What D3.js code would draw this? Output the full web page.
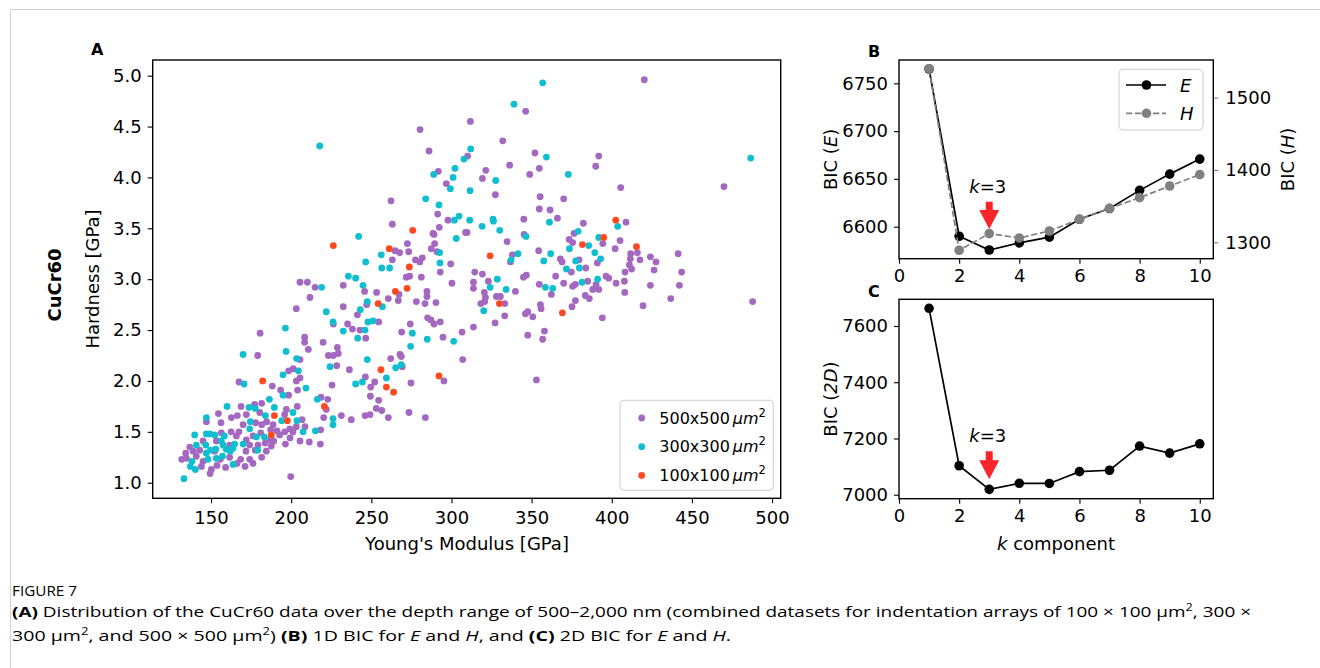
<!DOCTYPE html>
<html>
<head>
<meta charset="utf-8">
<title>CuCr60 BIC</title>
<script src="https://cdn.jsdelivr.net/npm/d3@7"></script>
<style>
  body { margin: 0; background: #fff; }
  svg text { font-family: "DejaVu Sans", sans-serif; fill: #000; }
  svg .caption text, svg text.caption { font-family: "Open Sans", "Noto Sans", sans-serif; }
</style>
</head>
<body>
<div id="container"></div>
<script>
// Panel A: Young's modulus [GPa] vs hardness [GPa] for each indentation array
const pts500 = [
  [280.4,4.47],[286.0,4.26],[291.8,4.06],[296.8,3.94],[262.3,3.77],[291.4,3.64],[297.8,3.58],[292.4,3.51],[263.1,3.54],[288.5,3.45],
  [289.1,3.44],[308.8,3.46],[272.5,3.35],[289.5,3.35],[287.4,3.30],[291.0,3.27],[273.3,3.27],[264.8,3.28],[267.7,3.26],[263.1,3.19],
  [277.5,3.19],[280.2,3.17],[281.8,3.21],[299.5,3.15],[293.0,3.07],[273.9,3.03],[271.8,3.02],[281.2,3.02],
  [420.3,4.96],[346.3,4.65],[311.8,4.55],[332.0,4.36],[352.1,4.24],[310.1,4.21],[391.9,4.21],[336.3,4.12],[390.0,4.11],[354.8,4.09],
  [321.4,4.07],[319.3,3.99],[348.8,4.03],[470.0,3.91],[405.6,3.90],[327.4,3.83],[355.3,3.81],[370.0,3.79],[354.8,3.69],[361.5,3.68],
  [366.1,3.60],[345.1,3.59],[382.3,3.55],[408.9,3.56],[309.7,3.46],[345.3,3.44],[334.7,3.37],[376.5,3.45],[373.4,3.39],[375.6,3.36],
  [394.4,3.35],[405.2,3.38],[402.1,3.30],[354.4,3.28],[416.0,3.26],[411.8,3.25],[411.6,3.20],[417.6,3.19],[424.1,3.22],[427.6,3.17],
  [441.4,3.25],[443.6,3.07],[426.4,3.09],[411.0,3.14],[412.4,3.10],[408.3,3.07],[391.0,3.16],[383.8,3.11],[367.9,3.20],[369.0,3.17],
  [379.6,3.19],[336.8,3.17],[338.0,3.24],[314.5,3.07],[319.3,3.05],[374.8,3.07],[365.0,3.03],[344.9,3.02],[346.7,3.04],[396.4,3.03],
  [205.5,2.97],[210.1,2.97],[214.9,2.92],[232.5,2.94],[245.8,2.88],[253.3,2.87],[267.3,2.85],[266.8,2.79],[260.6,2.81],[284.7,2.88],
  [284.7,2.83],[300.3,2.96],[278.1,2.78],[283.5,2.76],[290.3,2.77],[247.1,2.75],[211.7,2.82],[203.2,2.71],[232.5,2.73],[241.3,2.65],
  [226.3,2.56],[235.2,2.56],[238.2,2.51],[242.9,2.50],[254.6,2.58],[246.5,2.42],[268.9,2.48],[274.3,2.56],[285.1,2.62],[287.2,2.60],
  [289.1,2.56],[293.0,2.58],[294.7,2.43],[306.6,2.48],[307.0,2.21],[180.6,2.47],[208.4,2.43],[208.4,2.38],[210.7,2.31],[219.9,2.38],
  [228.8,2.33],[223.2,2.25],[226.3,2.25],[229.4,2.27],[228.4,2.15],[236.3,2.11],[262.1,2.22],[267.9,2.26],[268.7,2.24],[269.3,2.14],
  [246.3,2.04],[249.6,1.94],[252.1,1.99],[249.4,1.85],[254.6,1.81],[253.1,1.73],[256.5,1.71],[260.6,1.64],[246.1,1.66],[249.2,1.67],
  [273.5,1.69],[283.7,1.64],[295.3,2.00],[274.7,1.98],[225.5,1.96],[231.3,1.66],[237.5,1.62],[221.9,1.72],[220.3,1.64],[218.6,1.84],
  [222.8,1.82],[218.4,1.52],[218.2,1.38],[211.3,1.40],[205.5,1.41],[199.7,1.06],[179.1,2.25],[205.5,2.21],[198.4,2.10],[201.3,2.12],
  [205.5,2.03],[203.2,2.00],[204.0,1.91],[167.4,1.99],[188.2,1.95],[193.4,1.91],[198.4,1.86],[181.6,1.78],[177.2,1.77],[168.7,1.75],
  [154.6,1.68],[147.1,1.60],[156.2,1.59],[166.4,1.66],[206.8,1.62],[203.8,1.75],[197.0,1.72],[199.1,1.53],[201.1,1.50],[208.6,1.55],
  [199.3,1.44],[196.4,1.38],[187.0,1.42],[184.7,1.60],[181.6,1.57],[177.8,1.59],[170.0,1.57],[167.4,1.50],[183.7,1.39],[181.0,1.49],
  [191.2,1.51],[181.6,1.25],[177.6,1.32],[174.1,1.37],[171.8,1.31],[168.5,1.23],[171.2,1.16],[161.6,1.25],[162.5,1.50],[165.8,1.46],
  [156.4,1.49],[136.7,1.35],[145.0,1.41],[153.3,1.41],[142.9,1.32],[140.8,1.26],[134.2,1.29],[131.7,1.23],[134.6,1.24],[144.0,1.16],
  [149.4,1.09],[150.2,1.13],[153.7,1.17],[159.1,1.15],[166.2,1.19],[174.1,1.23],[176.2,1.19],[187.6,1.36],[189.1,1.41],[192.8,1.47],
  [176.2,1.46],[161.6,1.37],[152.3,1.31],[155.8,1.23],[145.0,1.21],[138.8,1.31],[172.0,1.42],[184.5,1.31],[179.3,1.37],[187.2,1.52],
  [196.0,1.50],[162.7,1.64],[172.0,1.67],[180.4,1.69],[203.2,1.55],[195.9,1.67],[188.7,1.57],
  [313.7,2.97],[313.7,2.91],[323.0,2.98],[320.5,2.87],[321.2,2.82],[318.3,2.76],[320.7,2.78],[328.0,2.83],[330.5,2.83],[339.9,2.88],
  [333.2,2.76],[333.2,2.64],[327.2,2.57],[313.7,2.53],[354.8,2.95],[362.3,2.85],[370.0,2.96],[375.6,2.93],[377.3,2.95],[385.0,2.98],
  [388.1,2.90],[391.9,2.90],[390.2,2.95],[383.5,2.84],[386.0,2.81],[377.3,2.79],[375.2,2.73],[355.5,2.75],[355.9,2.71],[347.6,2.68],
  [346.1,2.66],[350.7,2.63],[358.0,2.49],[347.6,2.45],[356.9,2.41],[394.1,2.62],[398.1,3.01],[402.7,2.96],[407.9,2.98],[408.1,2.87],
  [424.1,2.94],[442.2,2.94],[436.8,2.81],[419.5,2.74],[487.9,2.78],[353.0,2.01]
];
const pts300 = [
  [217.8,4.31],[307.8,4.18],[302.2,4.09],[288.9,4.03],[301.0,4.00],[299.3,3.89],[283.9,3.79],[292.2,3.73],[304.7,3.62],[301.8,3.58],
  [303.0,3.40],[242.1,3.42],[292.6,3.26],[256.2,3.24],[246.5,3.17],[292.8,3.16],[256.5,3.11],[261.4,3.11],[235.7,3.03],[240.2,3.01],
  [356.9,4.93],[339.0,4.72],[312.0,4.28],[359.2,4.20],[486.7,4.19],[372.9,4.03],[327.6,3.97],[311.6,3.87],[311.4,3.58],[325.9,3.59],
  [326.2,3.57],[319.1,3.52],[330.1,3.48],[346.5,3.42],[361.1,3.56],[379.0,3.47],[391.9,3.41],[403.7,3.52],[385.6,3.33],[373.6,3.30],
  [389.4,3.26],[393.1,3.20],[341.5,3.25],[337.2,3.19],[361.9,3.25],[357.6,3.18],[377.5,3.18],[371.7,3.10],[379.8,3.11],
  [219.0,2.92],[244.8,2.94],[247.5,2.78],[256.9,2.73],[221.9,2.68],[243.1,2.70],[226.1,2.58],[232.5,2.49],[246.1,2.50],[247.9,2.58],
  [251.0,2.59],[241.5,2.42],[275.6,2.47],[284.9,2.41],[301.4,2.39],[274.5,2.34],[196.4,2.52],[224.2,2.14],[247.5,2.21],[268.7,2.16],
  [265.2,2.13],[259.4,2.03],[244.4,1.99],[240.2,1.97],[226.1,1.63],[226.1,1.57],[216.3,1.82],[215.1,1.51],[170.0,2.26],[196.8,2.29],
  [203.4,2.22],[204.5,2.10],[194.9,2.06],[209.2,1.93],[170.6,1.97],[194.9,1.86],[186.4,1.82],[189.5,1.74],[177.6,1.73],[173.7,1.74],
  [160.0,1.75],[147.1,1.64],[201.1,1.69],[194.1,1.61],[203.6,1.61],[207.4,1.50],[174.5,1.60],[174.1,1.53],[178.3,1.45],[183.3,1.45],
  [179.1,1.32],[170.0,1.38],[163.7,1.18],[162.0,1.31],[163.7,1.34],[164.7,1.38],[158.3,1.46],[152.3,1.47],[149.2,1.48],[147.1,1.48],
  [139.8,1.47],[140.8,1.37],[146.7,1.37],[156.4,1.41],[157.5,1.37],[152.9,1.33],[149.6,1.32],[147.1,1.29],[148.1,1.23],[153.3,1.24],
  [157.1,1.26],[159.5,1.33],[138.1,1.21],[137.1,1.16],[140.2,1.13],[133.1,1.04],[183.9,1.66],
  [328.6,3.00],[324.1,2.92],[334.1,2.90],[320.1,2.69],[358.6,2.92],[363.2,2.91],[381.5,2.97],[391.2,3.00]
];
const pts100 = [
  [275.8,3.48],[226.3,3.33],[261.2,3.30],[273.7,3.12],
  [402.5,3.58],[395.0,3.41],[381.7,3.34],[415.4,3.32],[324.1,3.23],
  [265.0,2.88],[272.3,2.91],[254.2,2.76],[256.0,2.11],[259.4,1.94],[263.9,1.89],[292.2,2.05],[220.7,1.75],[182.2,2.00],
  [189.5,1.66],[197.6,1.61],[187.6,1.47],
  [329.9,2.76],[369.2,2.67]
];
const seriesNames = ["500x500", "300x300", "100x100"];
const seriesColors = ["#a468c0", "#10bfcf", "#ff4a1f"];

// Panels B and C: BIC per number of components k
const kValues = [1, 2, 3, 4, 5, 6, 7, 8, 9, 10];
const bicE = [6765, 6590, 6575.6, 6583, 6589, 6607.7, 6619, 6638, 6655, 6670.7];
const bicH = [1540, 1289, 1312, 1306, 1315.6, 1331.8, 1347, 1361.7, 1377.8, 1393.5];
const bic2D = [7663, 7103, 7019, 7040.5, 7040, 7082, 7087, 7173, 7148, 7181];

const xTicksA = [150, 200, 250, 300, 350, 400, 450, 500];
const yTicksA = [1.0, 1.5, 2.0, 2.5, 3.0, 3.5, 4.0, 4.5, 5.0];
const kTicks = [0, 2, 4, 6, 8, 10];
const yTicksE = [6600, 6650, 6700, 6750];
const yTicksH = [1300, 1400, 1500];
const yTicks2D = [7000, 7200, 7400, 7600];

// arrow annotations: [k, arrow top, arrow tip, text baseline] in data units
const arrowB = [3, 6626, 6597.6, 6635];
const arrowC = [3, 7155, 7055, 7186];

const width = 1320, height = 668;
const svg = d3.select("#container").append("svg")
    .attr("width", width).attr("height", height);

// page frame
svg.append("path").attr("d", "M10.5,668 V9.5 H1320")
    .attr("fill", "none").attr("stroke", "#d3d3d3").attr("stroke-width", 1);

function styleAxis(g, size, color) {
  g.select(".domain").remove();
  g.selectAll(".tick line").attr("stroke", color || "#000").attr("stroke-width", 1.1);
  g.selectAll(".tick text").attr("font-size", size).attr("font-family", "DejaVu Sans")
      .attr("fill", color || "#000");
}

function frame(x0, y0, x1, y1) {
  svg.append("rect").attr("x", x0).attr("y", y0).attr("width", x1 - x0).attr("height", y1 - y0)
      .attr("fill", "none").attr("stroke", "#000").attr("stroke-width", 1.4);
}

// ---------- Panel A ----------
const xA = d3.scaleLinear().domain([113.6, 505.4]).range([152.7, 780.7]);
const yA = d3.scaleLinear().domain([0.847, 5.154]).range([498.3, 60]);

const gA = svg.append("g");
[pts500, pts300, pts100].forEach((pts, i) => {
  gA.append("g").selectAll("circle").data(pts).join("circle")
      .attr("cx", d => xA(d[0])).attr("cy", d => yA(d[1]))
      .attr("r", 3.4).attr("fill", seriesColors[i]);
});

svg.append("g").attr("transform", "translate(0,498.3)")
    .call(d3.axisBottom(xA).tickValues(xTicksA).tickSize(5).tickPadding(8))
    .call(g => styleAxis(g, 18));
svg.append("g").attr("transform", "translate(152.7,0)")
    .call(d3.axisLeft(yA).tickValues(yTicksA).tickFormat(d3.format(".1f")).tickSize(5).tickPadding(6))
    .call(g => styleAxis(g, 18));
frame(152.7, 60, 780.7, 498.3);

svg.append("text").attr("x", 467).attr("y", 550).attr("text-anchor", "middle")
    .attr("font-size", 18).text("Young's Modulus [GPa]");
svg.append("text").attr("transform", "translate(99,279) rotate(-90)").attr("text-anchor", "middle")
    .attr("font-size", 18).text("Hardness [GPa]");
svg.append("text").attr("transform", "translate(61,285) rotate(-90)").attr("text-anchor", "middle")
    .attr("font-size", 18).attr("font-weight", "bold").text("CuCr60");
svg.append("text").attr("x", 91).attr("y", 55).attr("font-size", 16).attr("font-weight", "bold").text("A");

// legend A
const legA = svg.append("g");
legA.append("rect").attr("x", 620).attr("y", 400.3).attr("width", 153.3).attr("height", 90)
    .attr("rx", 4).attr("fill", "#fff").attr("fill-opacity", 0.8)
    .attr("stroke", "#cccccc").attr("stroke-width", 1);
seriesNames.forEach((name, i) => {
  const cy = 418 + i * 28.7;
  legA.append("circle").attr("cx", 641.7).attr("cy", cy).attr("r", 3.4).attr("fill", seriesColors[i]);
  const t = legA.append("text").attr("x", 659.3).attr("y", cy + 5.5).attr("font-size", 16);
  t.append("tspan").text(name);
  t.append("tspan").attr("dx", 3).attr("font-style", "italic").text("μm");
  t.append("tspan").attr("font-size", 11.5).attr("dy", -7).text("2");
});

// ---------- Panel B ----------
const xK = d3.scaleLinear().domain([0, 10.45]).range([899, 1213.3]);
const yE = d3.scaleLinear().domain([6566.5, 6774.4]).range([258.7, 60]);
const yH = d3.scaleLinear().domain([1277.3, 1552]).range([258.7, 60]);
const intFmt = d3.format("d");

svg.append("g").attr("transform", "translate(0,258.7)")
    .call(d3.axisBottom(xK).tickValues(kTicks).tickSize(5).tickPadding(6))
    .call(g => styleAxis(g, 18));
svg.append("g").attr("transform", "translate(899,0)")
    .call(d3.axisLeft(yE).tickValues(yTicksE).tickFormat(intFmt).tickSize(5).tickPadding(6))
    .call(g => styleAxis(g, 18));
svg.append("g").attr("transform", "translate(1213.3,0)")
    .call(d3.axisRight(yH).tickValues(yTicksH).tickFormat(intFmt).tickSize(5).tickPadding(7))
    .call(g => styleAxis(g, 18, "#808080"));

const lineE = d3.line().x((d, i) => xK(kValues[i])).y(d => yE(d));
const lineH = d3.line().x((d, i) => xK(kValues[i])).y(d => yH(d));
svg.append("path").attr("d", lineE(bicE)).attr("fill", "none").attr("stroke", "#000").attr("stroke-width", 1.7);
svg.append("g").selectAll("circle").data(bicE).join("circle")
    .attr("cx", (d, i) => xK(kValues[i])).attr("cy", d => yE(d)).attr("r", 4.8).attr("fill", "#000");
svg.append("path").attr("d", lineH(bicH)).attr("fill", "none").attr("stroke", "#808080")
    .attr("stroke-width", 1.7).attr("stroke-dasharray", "6.3,2.7");
svg.append("g").selectAll("circle").data(bicH).join("circle")
    .attr("cx", (d, i) => xK(kValues[i])).attr("cy", d => yH(d)).attr("r", 4.8).attr("fill", "#808080");
frame(899, 60, 1213.3, 258.7);

function drawArrow(a, y) {
  const cx = xK(a[0]), top = y(a[1]), tip = y(a[2]);
  const neck = tip - 19;
  svg.append("path")
      .attr("d", `M${cx - 3.5},${top} H${cx + 3.5} V${neck} H${cx + 10} L${cx},${tip} L${cx - 10},${neck} H${cx - 3.5} Z`)
      .attr("fill", "#f8262b");
  const t = svg.append("text").attr("x", cx - 1.5).attr("y", y(a[3])).attr("text-anchor", "middle").attr("font-size", 18);
  t.append("tspan").attr("font-style", "italic").text("k");
  t.append("tspan").text("=3");
}
drawArrow(arrowB, yE);

function yLabel(x, y, pre, it, post) {
  const t = svg.append("text").attr("transform", `translate(${x},${y}) rotate(-90)`)
      .attr("text-anchor", "middle").attr("font-size", 18);
  t.append("tspan").text(pre);
  t.append("tspan").attr("font-style", "italic").text(it);
  t.append("tspan").text(post);
}
yLabel(837, 159.4, "BIC (", "E", ")");
yLabel(1294, 159.4, "BIC (", "H", ")");
svg.append("text").attr("x", 868).attr("y", 57).attr("font-size", 16).attr("font-weight", "bold").text("B");

// legend B
const legB = svg.append("g");
legB.append("rect").attr("x", 1119).attr("y", 69.3).attr("width", 84).attr("height", 60.7)
    .attr("rx", 4).attr("fill", "#fff").attr("fill-opacity", 0.8)
    .attr("stroke", "#cccccc").attr("stroke-width", 1);
[["E", "#000", null, 85], ["H", "#808080", "6.3,2.7", 113.3]].forEach(([lab, col, dash, ly]) => {
  legB.append("line").attr("x1", 1126).attr("x2", 1166).attr("y1", ly).attr("y2", ly)
      .attr("stroke", col).attr("stroke-width", 1.7).attr("stroke-dasharray", dash);
  legB.append("circle").attr("cx", 1146.5).attr("cy", ly).attr("r", 4.8).attr("fill", col);
  legB.append("text").attr("x", 1180).attr("y", ly + 6.5).attr("font-size", 18)
      .attr("font-style", "italic").text(lab);
});

// ---------- Panel C ----------
const y2D = d3.scaleLinear().domain([6985.8, 7695]).range([498.7, 299.3]);
svg.append("g").attr("transform", "translate(0,498.7)")
    .call(d3.axisBottom(xK).tickValues(kTicks).tickSize(5).tickPadding(6))
    .call(g => styleAxis(g, 18));
svg.append("g").attr("transform", "translate(899,0)")
    .call(d3.axisLeft(y2D).tickValues(yTicks2D).tickFormat(intFmt).tickSize(5).tickPadding(6))
    .call(g => styleAxis(g, 18));
const line2D = d3.line().x((d, i) => xK(kValues[i])).y(d => y2D(d));
svg.append("path").attr("d", line2D(bic2D)).attr("fill", "none").attr("stroke", "#000").attr("stroke-width", 1.7);
svg.append("g").selectAll("circle").data(bic2D).join("circle")
    .attr("cx", (d, i) => xK(kValues[i])).attr("cy", d => y2D(d)).attr("r", 4.8).attr("fill", "#000");
frame(899, 299.3, 1213.3, 498.7);
drawArrow(arrowC, y2D);
yLabel(837, 399, "BIC (", "2D", ")");
const kl = svg.append("text").attr("x", 1056).attr("y", 550).attr("text-anchor", "middle").attr("font-size", 18);
kl.append("tspan").attr("font-style", "italic").text("k");
kl.append("tspan").text(" component");
svg.append("text").attr("x", 868).attr("y", 297).attr("font-size", 16).attr("font-weight", "bold").text("C");

// ---------- Caption ----------
const cap = svg.append("g").attr("class", "caption");
cap.append("text").attr("x", 12).attr("y", 596).attr("font-size", 14.5).attr("fill", "#666")
    .attr("textLength", 65).attr("lengthAdjust", "spacingAndGlyphs").text("FIGURE 7");
const l1 = cap.append("text").attr("x", 12).attr("y", 617).attr("font-size", 15).attr("fill", "#5a5a5a")
    .attr("textLength", 1239).attr("lengthAdjust", "spacingAndGlyphs");
l1.append("tspan").attr("font-weight", "bold").text("(A)");
l1.append("tspan").text(" Distribution of the CuCr60 data over the depth range of 500\u20132,000 nm (combined datasets for indentation arrays of 100 \u00d7 100 \u03bcm");
l1.append("tspan").attr("font-size", 10).attr("dy", -6).text("2");
l1.append("tspan").attr("dy", 6).text(", 300 \u00d7");
const l2 = cap.append("text").attr("x", 12).attr("y", 641).attr("font-size", 15).attr("fill", "#5a5a5a")
    .attr("textLength", 719).attr("lengthAdjust", "spacingAndGlyphs");
l2.append("tspan").text("300 \u03bcm");
l2.append("tspan").attr("font-size", 10).attr("dy", -6).text("2");
l2.append("tspan").attr("dy", 6).text(", and 500 \u00d7 500 \u03bcm");
l2.append("tspan").attr("font-size", 10).attr("dy", -6).text("2");
l2.append("tspan").attr("dy", 6).text(") ");
l2.append("tspan").attr("font-weight", "bold").text("(B)");
l2.append("tspan").text(" 1D BIC for ");
l2.append("tspan").attr("font-style", "italic").text("E");
l2.append("tspan").text(" and ");
l2.append("tspan").attr("font-style", "italic").text("H");
l2.append("tspan").text(", and ");
l2.append("tspan").attr("font-weight", "bold").text("(C)");
l2.append("tspan").text(" 2D BIC for ");
l2.append("tspan").attr("font-style", "italic").text("E");
l2.append("tspan").text(" and ");
l2.append("tspan").attr("font-style", "italic").text("H");
l2.append("tspan").text(".");
</script>
</body>
</html>
